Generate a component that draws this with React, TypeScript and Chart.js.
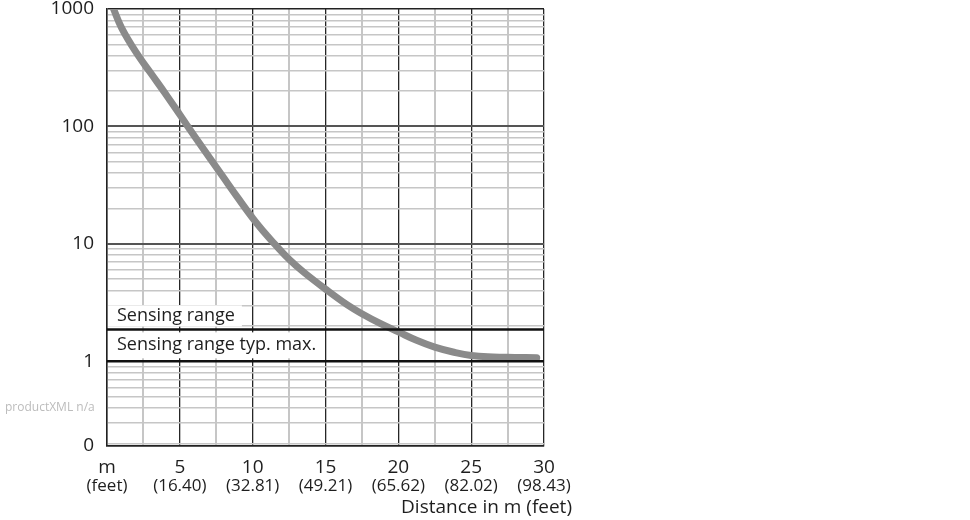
import React, { useEffect, useRef } from 'react';
import { Chart, registerables } from 'chart.js';

Chart.register(...registerables);

// ---- data ----
const distanceM = [0.45, 1.0, 2.0, 3.0, 4.0, 5.0, 5.5, 6.5, 8.0, 9.0, 10.0, 11.0, 11.5, 12.5, 13.5, 15.0, 16.5, 17.5, 18.75, 20.0, 21.25, 22.5, 23.75, 25.0, 26.5, 28.0, 29.5];
const scanValue = [1000, 692, 427, 285, 191, 126, 102, 67.6, 36.7, 24.5, 16.6, 11.7, 10, 7.4, 5.75, 4.12, 3.02, 2.54, 2.1, 1.78, 1.51, 1.32, 1.2, 1.12, 1.09, 1.08, 1.07];

const xMin = 0;
const xMax = 30;
const xGridTicks = [0, 2.5, 5, 7.5, 10, 12.5, 15, 17.5, 20, 22.5, 25, 27.5, 30];
const xLabelValues = [0, 5, 10, 15, 20, 25, 30];
const meterLabels = ['m', '5', '10', '15', '20', '25', '30'];
const feetLabels = ['(feet)', '(16.40)', '(32.81)', '(49.21)', '(65.62)', '(82.02)', '(98.43)'];

const yMin = 0.19;
const yMax = 1000;
const yDecades = [0.1, 1, 10, 100];
const yMinorMultipliers = [2, 3, 4, 5, 6, 7, 8, 9];
const yLabelValues = [1000, 100, 10, 1];
const yLabels = ['1000', '100', '10', '1'];
const yBottomLabel = '0';

const sensingRange = 1.87;
const sensingRangeTypMax = 1;
const sensingRangeLabel = 'Sensing range';
const sensingRangeTypMaxLabel = 'Sensing range typ. max.';
const xTitle = 'Distance in m (feet)';
const footnote = 'productXML n/a';

const FONT = '"Open Sans", "Liberation Sans", sans-serif';
const TEXT = '#1e1e1e';

function buildYTicks(): number[] {
  const out: number[] = [yMin];
  for (const d of yDecades) {
    if (d >= yMin && d <= yMax) out.push(d);
    for (const m of yMinorMultipliers) {
      const v = +(d * m).toPrecision(6);
      if (v > yMin && v < yMax) out.push(v);
    }
  }
  out.push(yMax);
  return Array.from(new Set(out)).sort((a, b) => a - b);
}

function isDecade(v: number) {
  const l = Math.log10(v);
  return Math.abs(l - Math.round(l)) < 1e-6;
}

const overlayPlugin = {
  id: 'overlay',
  beforeDatasetsDraw(chart: any) {
    const { ctx, chartArea, scales } = chart;
    const y = scales.y;
    const sy = y.getPixelForValue(sensingRange);
    const oy = y.getPixelForValue(sensingRangeTypMax);
    ctx.save();
    ctx.font = `18px ${FONT}`;
    ctx.textBaseline = 'middle';
    ctx.textAlign = 'left';
    const tx = chartArea.left + 10;
    const w1 = ctx.measureText(sensingRangeLabel).width;
    ctx.fillStyle = '#ffffff';
    ctx.fillRect(chartArea.left + 1, sy - 24, w1 + 16, 21);
    const w2 = ctx.measureText(sensingRangeTypMaxLabel).width;
    ctx.fillRect(chartArea.left + 1, sy + 3, w2 + 16, oy - sy - 6);
    ctx.fillStyle = TEXT;
    ctx.fillText(sensingRangeLabel, tx, sy - 14);
    ctx.fillText(sensingRangeTypMaxLabel, tx, (sy + oy) / 2);
    ctx.restore();
  },
  afterDraw(chart: any) {
    const { ctx, scales } = chart;
    const x = scales.x;
    ctx.save();
    ctx.font = `19px ${FONT}`;
    ctx.fillStyle = TEXT;
    ctx.textAlign = 'right';
    ctx.textBaseline = 'middle';
    ctx.fillText(xTitle, x.right + 28, 508);
    ctx.font = `12px ${FONT}`;
    ctx.fillStyle = '#bcbcbc';
    ctx.textAlign = 'left';
    ctx.fillText(footnote, 5, 408);
    ctx.restore();
  },
};

export default function App() {
  const ref = useRef<HTMLCanvasElement | null>(null);

  useEffect(() => {
    if (!ref.current) return;
    const yTicks = buildYTicks();
    const chart = new Chart(ref.current, {
      type: 'line',
      data: {
        datasets: [
          {
            label: 'curve',
            data: distanceM.map((d, i) => ({ x: d, y: scanValue[i] })),
            borderColor: '#8a8a8a',
            borderWidth: 7,
            pointRadius: 0,
            tension: 0.4,
            borderCapStyle: 'round',
            borderJoinStyle: 'round',
            xAxisID: 'x',
            yAxisID: 'y',
            order: 2,
          },
          {
            label: 'sensing',
            data: [{ x: xMin, y: sensingRange }, { x: xMax, y: sensingRange }],
            borderColor: '#111111',
            borderWidth: 2.5,
            pointRadius: 0,
            xAxisID: 'x',
            yAxisID: 'y',
            order: 1,
          },
          {
            label: 'typmax',
            data: [{ x: xMin, y: sensingRangeTypMax }, { x: xMax, y: sensingRangeTypMax }],
            borderColor: '#111111',
            borderWidth: 2.5,
            pointRadius: 0,
            xAxisID: 'x',
            yAxisID: 'y',
            order: 1,
          },
        ],
      },
      options: {
        animation: false,
        responsive: false,
        maintainAspectRatio: false,
        layout: { padding: { left: 0, right: 426, top: 9, bottom: 22 } },
        plugins: { legend: { display: false }, tooltip: { enabled: false } },
        scales: {
          x: {
            type: 'linear',
            position: 'bottom',
            min: xMin,
            max: xMax,
            weight: 1,
            afterBuildTicks: (s: any) => {
              s.ticks = xGridTicks.map((v) => ({ value: v }));
            },
            afterFit: (s: any) => {
              s.height = 30;
              s.paddingLeft = 0;
              s.paddingRight = 0;
            },
            grid: {
              drawTicks: false,
              color: (c: any) => {
                const v = c.tick?.value;
                if (v === undefined) return '#c6c6c6';
                return v % 5 === 0 ? '#262626' : '#c6c6c6';
              },
              lineWidth: (c: any) => {
                const v = c.tick?.value;
                return v !== undefined && v % 5 === 0 ? 1.3 : 2;
              },
            },
            border: { display: true, color: '#222', width: 1.5 },
            ticks: {
              autoSkip: false,
              maxRotation: 0,
              padding: 10,
              color: TEXT,
              font: { family: FONT, size: 19 },
              callback: (v: any) => {
                const i = xLabelValues.indexOf(Number(v));
                return i >= 0 ? meterLabels[i] : '';
              },
            },
          },
          x2: {
            type: 'linear',
            position: 'bottom',
            min: xMin,
            max: xMax,
            weight: 2,
            afterBuildTicks: (s: any) => {
              s.ticks = xLabelValues.map((v) => ({ value: v }));
            },
            afterFit: (s: any) => {
              s.height = 22;
              s.paddingLeft = 0;
              s.paddingRight = 0;
            },
            grid: { display: false, drawTicks: false },
            border: { display: false },
            ticks: {
              autoSkip: false,
              maxRotation: 0,
              padding: 0,
              color: TEXT,
              font: { family: FONT, size: 17 },
              callback: (v: any) => {
                const i = xLabelValues.indexOf(Number(v));
                return i >= 0 ? feetLabels[i] : '';
              },
            },
          },
          y: {
            type: 'logarithmic',
            position: 'left',
            min: yMin,
            max: yMax,
            afterBuildTicks: (s: any) => {
              s.ticks = yTicks.map((v) => ({ value: v }));
            },
            afterFit: (s: any) => {
              s.width = 107;
              s.paddingTop = 0;
              s.paddingBottom = 0;
            },
            grid: {
              drawTicks: false,
              color: (c: any) => {
                const v = c.tick?.value;
                if (v === undefined) return '#c6c6c6';
                if (v === yMax || v === yMin) return '#222';
                return isDecade(v) ? '#555555' : '#c6c6c6';
              },
              lineWidth: (c: any) => {
                const v = c.tick?.value;
                if (v === undefined) return 1.5;
                if (v === yMax || v === yMin) return 1.5;
                return isDecade(v) ? 2 : 1.5;
              },
            },
            border: { display: true, color: '#222', width: 1.5 },
            ticks: {
              autoSkip: false,
              padding: 13,
              color: TEXT,
              font: { family: FONT, size: 19 },
              callback: (v: any) => {
                const n = Number(v);
                if (Math.abs(n - yMin) < 1e-9) return yBottomLabel;
                const i = yLabelValues.findIndex((t) => Math.abs(t - n) < 1e-9);
                return i >= 0 ? yLabels[i] : '';
              },
            },
          },
        },
      },
      plugins: [overlayPlugin],
    } as any);
    return () => chart.destroy();
  }, []);

  return (
    <div style={{ position: 'absolute', left: 0, top: 0, width: 970, height: 520, background: '#fff' }}>
      <canvas ref={ref} width={970} height={520} style={{ width: 970, height: 520, display: 'block' }} />
    </div>
  );
}
